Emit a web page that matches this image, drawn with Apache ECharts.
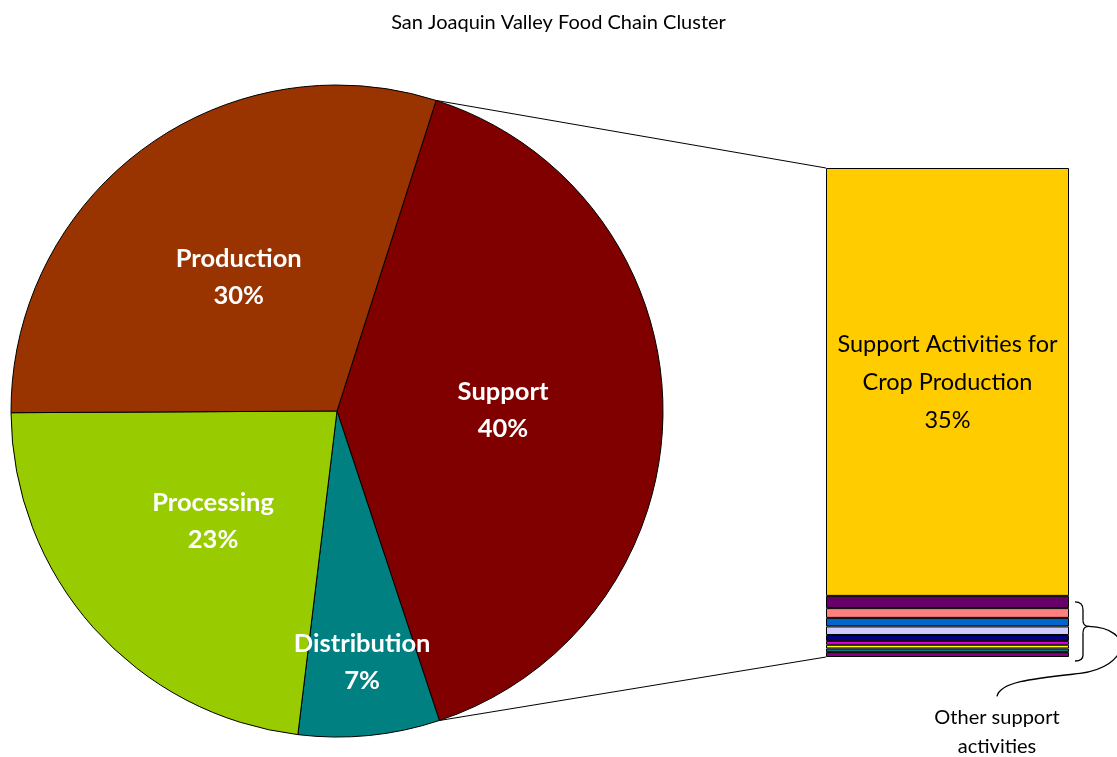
<!DOCTYPE html>
<html>
<head>
<meta charset="utf-8">
<script src="https://cdn.jsdelivr.net/npm/echarts@6/dist/echarts.min.js"></script>
<style>html,body{margin:0;padding:0;background:#fff;}#c{width:1117px;height:757px;}</style>
</head>
<body>
<div id="c"></div>
<script>
const chartTitle = 'San Joaquin Valley Food Chain Cluster';
const pieNames = ['Support', 'Distribution', 'Processing', 'Production'];
const pieValues = [40, 7, 23, 30];
const pieColors = ['#800000', '#008080', '#99CC00', '#993300'];

const barCategories = ['Support'];
const barNames = ['Support Activities for Crop Production', 'Other support activity 1', 'Other support activity 2',
  'Other support activity 3', 'Other support activity 4', 'Other support activity 5', 'Other support activity 6',
  'Other support activity 7', 'Other support activity 8', 'Other support activity 9'];
const barValues = [35, 1.0, 0.8, 0.7, 0.7, 0.5, 0.3, 0.3, 0.3, 0.4];
const barColors = ['#FFCC00', '#660066', '#FF8080', '#0066CC', '#CCCCFF', '#000080', '#FF00FF', '#FFFF00', '#008080', '#800080'];
const braceLabel = 'Other support\nactivities';

const FONT = 'Lato';
const pieCenter = [337, 411];
const pieRadius = 326;
const pieStart = 72.3;
const gridBox = { left: 826, top: 168, width: 243, height: 489 };

const chart = echarts.init(document.getElementById('c'), null, { renderer: 'canvas' });
const pieTotal = pieValues.reduce((a, b) => a + b, 0);
const barTotal = barValues.reduce((a, b) => a + b, 0);

function pieAngleAt(frac) {
  return (pieStart - 360 * frac) * Math.PI / 180;
}
function piePoint(frac, r) {
  const a = pieAngleAt(frac);
  return [pieCenter[0] + r * Math.cos(a), pieCenter[1] - r * Math.sin(a)];
}

const barSeries = barValues.map((v, i) => ({
  type: 'bar',
  name: barNames[i],
  stack: 'support',
  barWidth: '100%',
  data: [v],
  itemStyle: { color: barColors[i], borderColor: '#000', borderWidth: 1 },
  emphasis: { disabled: true },
  silent: true,
  label: i === 0 ? {
    show: true,
    position: 'inside',
    formatter: 'Support Activities for\nCrop Production\n{c}%',
    fontFamily: FONT, fontSize: 23.5, color: '#000', lineHeight: 38
  } : { show: false }
}));

const option = {
  animation: false,
  title: {
    text: chartTitle, left: 'center', top: 8,
    textStyle: { fontFamily: FONT, fontSize: 20, fontWeight: 'normal', color: '#000' }
  },
  grid: { left: gridBox.left, top: gridBox.top, width: gridBox.width, height: gridBox.height },
  xAxis: { type: 'category', data: barCategories, show: false },
  yAxis: { type: 'value', min: 0, max: barTotal, inverse: true, show: false },
  series: [
    {
      type: 'pie',
      center: pieCenter,
      radius: [0, pieRadius],
      startAngle: pieStart,
      clockwise: true,
      silent: true,
      emphasis: { disabled: true },
      itemStyle: { borderColor: '#000', borderWidth: 1 },
      label: {
        show: true, position: 'inside',
        formatter: '{b}\n{d}%',
        fontFamily: FONT, fontWeight: 'bold', fontSize: 25.5, color: '#fff', lineHeight: 37
      },
      labelLine: { show: false },
      labelLayout: function (p) {
        if (p.dataIndex !== 1) return {};
        let cum = 0;
        for (let k = 0; k < p.dataIndex; k++) cum += pieValues[k];
        const mid = (cum + pieValues[p.dataIndex] / 2) / pieTotal;
        const t = piePoint(mid, pieRadius * 0.775);
        const r = p.labelRect;
        return { dx: t[0] - (r.x + r.width / 2), dy: t[1] - (r.y + r.height / 2) };
      },
      data: pieNames.map((n, i) => ({ name: n, value: pieValues[i], itemStyle: { color: pieColors[i] } }))
    }
  ].concat(barSeries)
};
chart.setOption(option);

const supStart = piePoint(0, pieRadius);
const supEnd = piePoint(pieValues[0] / pieTotal, pieRadius);
const barTopY = chart.convertToPixel({ yAxisIndex: 0 }, 0);
const barBotY = chart.convertToPixel({ yAxisIndex: 0 }, barTotal);
const othersTopY = chart.convertToPixel({ yAxisIndex: 0 }, barValues[0]);
const barRight = gridBox.left + gridBox.width;
const bx = barRight + 6;
const bmid = (othersTopY + barBotY) / 2;
const ln = { stroke: '#000', lineWidth: 1.3, fill: null };

function quad(x1, y1, cx, cy, x2, y2) {
  return { type: 'bezierCurve', silent: true, shape: { x1, y1, cpx1: cx, cpy1: cy, x2, y2 }, style: ln };
}
function cubic(x1, y1, c1x, c1y, c2x, c2y, x2, y2) {
  return { type: 'bezierCurve', silent: true, shape: { x1, y1, cpx1: c1x, cpy1: c1y, cpx2: c2x, cpy2: c2y, x2, y2 }, style: ln };
}
function seg(x1, y1, x2, y2, w) {
  return { type: 'line', silent: true, shape: { x1, y1, x2, y2 }, style: { stroke: '#000', lineWidth: w || 1.3 } };
}

chart.setOption({
  graphic: [
    seg(supStart[0], supStart[1], gridBox.left, barTopY, 1),
    seg(supEnd[0], supEnd[1], gridBox.left, barBotY, 1),
    quad(bx, othersTopY + 6, bx + 8, othersTopY + 6, bx + 8, othersTopY + 14),
    seg(bx + 8, othersTopY + 14, bx + 8, bmid - 6),
    quad(bx + 8, bmid - 6, bx + 8, bmid, bx + 14, bmid),
    quad(bx + 14, bmid, bx + 8, bmid, bx + 8, bmid + 6),
    seg(bx + 8, bmid + 6, bx + 8, barBotY - 2),
    quad(bx + 8, barBotY - 2, bx + 8, barBotY + 4, bx, barBotY + 4),
    cubic(bx + 14, bmid, bx + 60, bmid + 2, bx + 55, bmid + 40, bx + 5, bmid + 47),
    cubic(bx + 5, bmid + 47, bx - 40, bmid + 52, bx - 75, bmid + 55, bx - 78, bmid + 70),
    { type: 'text', silent: true, x: 997, y: 732,
      style: { text: braceLabel, fontFamily: FONT, fontSize: 20, fill: '#000', align: 'center', verticalAlign: 'middle', lineHeight: 29 } }
  ]
});
</script>
</body>
</html>
